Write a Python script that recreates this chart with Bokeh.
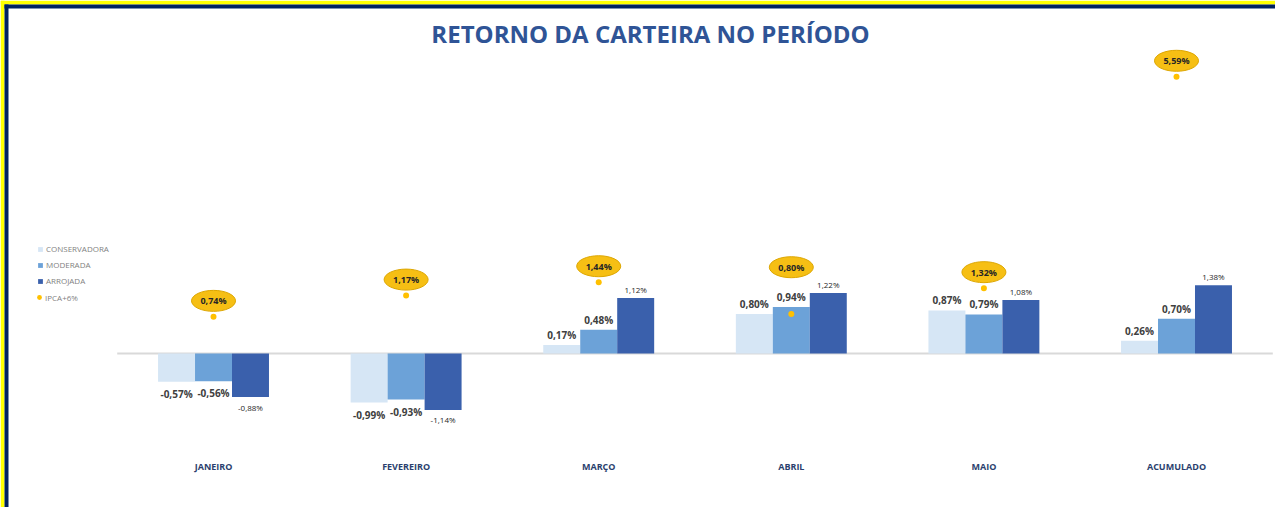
from bokeh.plotting import figure
from bokeh.models import ColumnDataSource, Range1d, Label, Legend, LegendItem, BoxAnnotation
from bokeh.core.properties import value
from bokeh.embed import file_html
from bokeh.resources import INLINE

# ---------------- data ----------------
categories = ["JANEIRO", "FEVEREIRO", "MARÇO", "ABRIL", "MAIO", "ACUMULADO"]
series_names = ["CONSERVADORA", "MODERADA", "ARROJADA"]
conservadora = [-0.57, -0.99, 0.17, 0.80, 0.87, 0.26]
moderada = [-0.56, -0.93, 0.48, 0.94, 0.79, 0.70]
arrojada = [-0.88, -1.14, 1.12, 1.22, 1.08, 1.38]
ipca = [0.74, 1.17, 1.44, 0.80, 1.32, 5.59]
ipca_name = "IPCA+6%"
title_text = "RETORNO DA CARTEIRA NO PERÍODO"

# ---------------- layout / style ----------------
W, H = 1275, 507
PX = 49.5            # pixels per 1 percentage point
ZERO_Y = 353         # pixel row of zero (from top)
BAR_W = 0.192
FONT = "Open Sans"


def fmt(v):
    return ("%.2f" % v).replace(".", ",") + "%"


idx = list(range(len(categories)))
n = len(categories)

p = figure(width=W, height=H,
           x_range=Range1d(-1.106, 5.514),
           y_range=Range1d(-(H - ZERO_Y) / PX, ZERO_Y / PX),
           output_backend="svg", toolbar_location=None,
           x_axis_location=None, y_axis_location=None,
           min_border=0, outline_line_color=None,
           background_fill_color="white", border_fill_color="white")
p.grid.visible = False

# frame (yellow outer band, navy inner band)
for l, r, b, t, c in [(0, W, H - 4, H, "#FFFF00"), (0, 4, 0, H, "#FFFF00"),
                      (4, W, H - 8, H - 4, "#002060"), (4, 8, 0, H - 4, "#002060")]:
    p.add_layout(BoxAnnotation(left=l, right=r, bottom=b, top=t,
                               left_units="screen", right_units="screen",
                               bottom_units="screen", top_units="screen",
                               fill_color=c, fill_alpha=1, line_color=None))

# zero line
p.segment(x0=[-0.5], y0=[0], x1=[n - 0.5], y1=[0], line_color="#D9D9D9", line_width=2)

series_vals = [conservadora, moderada, arrojada]
colors = ["#D6E6F5", "#6CA2D8", "#3A60AC"]
offsets = [-BAR_W, 0.0, BAR_W]
bar_renderers = []
for name, vals, col, off in zip(series_names, series_vals, colors, offsets):
    src = ColumnDataSource(dict(x=[i + off for i in idx], top=vals))
    r = p.vbar(x="x", top="top", bottom=0, width=BAR_W, source=src,
               fill_color=col, line_color=None)
    bar_renderers.append(r)

# bar labels
for k, (vals, off) in enumerate(zip(series_vals, offsets)):
    big = k < 2
    yoff = [(-10 if v >= 0 else 12) if big else (-9 if v >= 0 else 10) for v in vals]
    src = ColumnDataSource(dict(x=[i + off for i in idx], y=vals,
                                t=[fmt(v) for v in vals], yo=yoff))
    p.text(x="x", y="y", text="t", y_offset="yo", source=src,
           text_align="center", text_baseline="middle",
           text_font=value(FONT),
           text_font_size="10px" if big else "8px",
           text_font_style="bold" if big else "normal",
           text_color="#404040" if big else "#262626")

# IPCA points, callouts lifted above the bars of their group when needed
max_bar = [max(c, m, a) for c, m, a in zip(conservadora, moderada, arrojada)]
label_base = [max(v, mb + 0.2) for v, mb in zip(ipca, max_bar)]
ipca_src = ColumnDataSource(dict(x=idx, y=ipca, yb=[b + 16 / PX for b in label_base],
                                 t=[fmt(v) for v in ipca]))
dot = p.scatter(x="x", y="y", source=ipca_src, size=6, fill_color="#FFC000",
                line_color=None)
p.ellipse(x="x", y="yb", width=44, height=21, width_units="screen",
          height_units="screen", source=ipca_src,
          fill_color="#F6BF14", line_color="#DDA600", line_width=1)
p.text(x="x", y="yb", text="t", source=ipca_src, text_align="center",
       text_baseline="middle", text_font=value(FONT), text_font_size="9px",
       text_font_style="bold", text_color="#262626")

# category labels
cat_src = ColumnDataSource(dict(x=idx, y=[-(466 - ZERO_Y) / PX] * n, t=categories))
p.text(x="x", y="y", text="t", source=cat_src, text_align="center",
       text_baseline="middle", text_font=value(FONT), text_font_size="9px",
       text_font_style="bold", text_color="#2B3F6E")

# title
p.add_layout(Label(x=650, y=H - 33, x_units="screen", y_units="screen",
                   text=title_text, text_align="center", text_baseline="middle",
                   text_font=FONT, text_font_size="24px", text_font_style="bold",
                   text_color="#2F5496"))

# legend: bar series
legend_style = dict(orientation="vertical", background_fill_alpha=0,
                    border_line_color=None, padding=0, margin=0,
                    label_text_font=FONT, label_text_font_size="8px",
                    label_text_color="#7F7F7F")
items = [LegendItem(label=nm, renderers=[r]) for nm, r in zip(series_names, bar_renderers)]
legend = Legend(items=items, location=(37, 221), spacing=5, label_height=11,
                glyph_height=6, glyph_width=6, label_standoff=3, **legend_style)
p.add_layout(legend)
# legend: IPCA point (larger glyph box so the dot is visible)
legend2 = Legend(items=[LegendItem(label=ipca_name, renderers=[dot])],
                 location=(33, 204), label_height=12, glyph_height=12,
                 glyph_width=12, label_standoff=0, **legend_style)
p.add_layout(legend2)

open("out.html", "w").write(file_html(p, INLINE))
